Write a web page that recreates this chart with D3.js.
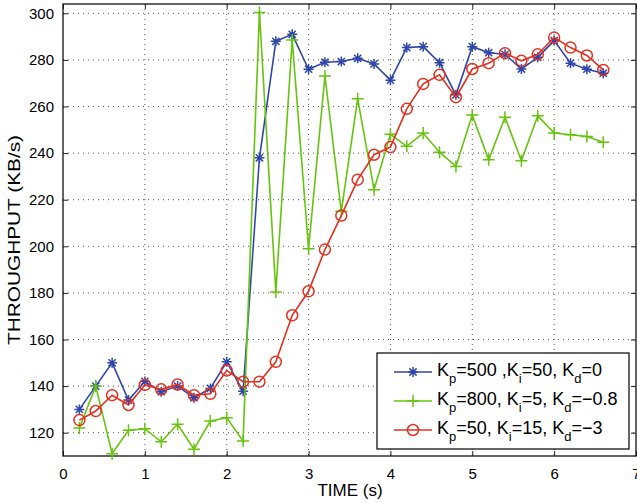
<!DOCTYPE html>
<html>
<head>
<meta charset="utf-8">
<script src="https://cdn.jsdelivr.net/npm/d3@7"></script>
<style>
  body { margin: 0; background: #fff; }
  text { font-family: "Liberation Sans", Arial, sans-serif; fill: #000; }
</style>
</head>
<body>
<div class="chart"></div>
<script>
var svgWidth = 637;
var svgHeight = 503;

var margin = { top: 4, right: 1, bottom: 47, left: 63 };
var width = svgWidth - margin.left - margin.right;
var height = svgHeight - margin.top - margin.bottom;

// time samples (s)
var timeVals = [0.2, 0.4, 0.6, 0.8, 1.0, 1.2, 1.4, 1.6, 1.8, 2.0, 2.2, 2.4, 2.6, 2.8, 3.0, 3.2,
  3.4, 3.6, 3.8, 4.0, 4.2, 4.4, 4.6, 4.8, 5.0, 5.2, 5.4, 5.6, 5.8, 6.0, 6.2, 6.4, 6.6];

// throughput (KB/s) per controller setting
var blueVals = [130, 140, 150, 134, 142, 137.6, 140, 135, 139, 150.4, 137.8, 238, 288, 291, 276, 279,
  279.3, 280.7, 278.3, 271.3, 285.3, 285.7, 278.8, 265, 285.7, 283.1, 282.4, 276.1, 281.1, 288.3, 278.6, 276, 274.3];
var greenVals = [122, 140, 111, 121, 121.7, 116.1, 123.6, 112.9, 125, 126.4, 116.4, 300.4, 180.4, 288.6, 199, 273.1,
  215, 263.3, 224.3, 248.1, 242.9, 248.6, 240.4, 234.3, 256.4, 237.1, 255.4, 236.7, 256, 248.6, 247.9, 247.1, 244.7];
var redVals = [125.4, 129.3, 136.1, 131.9, 140.5, 138.6, 140.7, 136.1, 136.7, 146.7, 141.9, 141.9, 150.4, 170.4, 180.7, 198.6,
  213.2, 228.6, 239.3, 242.6, 259, 269.7, 273.6, 264, 276.1, 278.6, 282.9, 279.6, 282.4, 289.6, 285.3, 281.9, 275.7];

var xTicks = [0, 1, 2, 3, 4, 5, 6, 7];
var yTicks = [120, 140, 160, 180, 200, 220, 240, 260, 280, 300];

var legendRows = [
  ["K", "p", "=500 ,", "K", "i", "=50, ", "K", "d", "=0"],
  ["K", "p", "=800, ", "K", "i", "=5, ", "K", "d", "=\u22120.8"],
  ["K", "p", "=50, ", "K", "i", "=15, ", "K", "d", "=\u22123"]
];

var series = [
  { values: blueVals, color: "#2f47aa", marker: "star" },
  { values: greenVals, color: "#66c40f", marker: "plus" },
  { values: redVals, color: "#e5301f", marker: "circle" }
];

var svg = d3.select(".chart")
  .append("svg")
  .attr("width", svgWidth)
  .attr("height", svgHeight);

var chartGroup = svg.append("g")
  .attr("transform", `translate(${margin.left}, ${margin.top})`);

var xScale = d3.scaleLinear().domain([0, 7]).range([0, width]);
var yScale = d3.scaleLinear().domain([110, 304]).range([height, 0]);

// dotted grid
chartGroup.append("g")
  .selectAll("line")
  .data(xTicks.slice(1, -1))
  .enter()
  .append("line")
  .attr("x1", d => xScale(d)).attr("x2", d => xScale(d))
  .attr("y1", 0).attr("y2", height)
  .attr("stroke", "#555").attr("stroke-dasharray", "1,4");

chartGroup.append("g")
  .selectAll("line")
  .data(yTicks)
  .enter()
  .append("line")
  .attr("x1", 0).attr("x2", width)
  .attr("y1", d => yScale(d)).attr("y2", d => yScale(d))
  .attr("stroke", "#555").attr("stroke-dasharray", "1,4");

// axes with inward ticks, mirrored on top/right
var bottomAxis = d3.axisBottom(xScale).tickValues(xTicks).tickFormat(d3.format("d"))
  .tickSizeInner(-5).tickSizeOuter(0).tickPadding(12);
var leftAxis = d3.axisLeft(yScale).tickValues(yTicks).tickFormat(d3.format("d"))
  .tickSizeInner(-5).tickSizeOuter(0).tickPadding(9);
var topAxis = d3.axisTop(xScale).tickValues(xTicks).tickSizeInner(-5).tickSizeOuter(0).tickFormat("");
var rightAxis = d3.axisRight(yScale).tickValues(yTicks).tickSizeInner(-5).tickSizeOuter(0).tickFormat("");

chartGroup.append("g")
  .attr("transform", `translate(0, ${height})`)
  .call(bottomAxis);
chartGroup.append("g").call(leftAxis);
chartGroup.append("g").call(topAxis);
chartGroup.append("g")
  .attr("transform", `translate(${width}, 0)`)
  .call(rightAxis);

chartGroup.selectAll(".domain").remove();
chartGroup.selectAll(".tick line").attr("stroke", "#222");
chartGroup.selectAll(".tick text")
  .style("font-size", "15px")
  .style("font-family", "'Liberation Sans', Arial, sans-serif");

chartGroup.append("rect")
  .attr("width", width).attr("height", height)
  .attr("fill", "none").attr("stroke", "#111").attr("stroke-width", 1.3);

// series lines and markers
var line = d3.line()
  .x((d, i) => xScale(timeVals[i]))
  .y(d => yScale(d));

function drawMarker(g, type, color) {
  if (type === "circle") {
    g.append("circle").attr("r", 5.5)
      .attr("fill", "none").attr("stroke", color).attr("stroke-width", 1.5);
  } else if (type === "plus") {
    g.append("path").attr("d", "M-6,0H6M0,-6V6")
      .attr("stroke", color).attr("stroke-width", 1.5);
  } else {
    g.append("path").attr("d", "M-5,0H5M0,-5V5M-3.6,-3.6L3.6,3.6M-3.6,3.6L3.6,-3.6")
      .attr("stroke", color).attr("stroke-width", 1.5);
  }
}

series.forEach(function (s) {
  chartGroup.append("path")
    .datum(s.values)
    .attr("d", line)
    .attr("fill", "none")
    .attr("stroke", s.color)
    .attr("stroke-width", 1.6);

  chartGroup.append("g")
    .selectAll("g")
    .data(s.values)
    .enter()
    .append("g")
    .attr("transform", (d, i) => `translate(${xScale(timeVals[i])}, ${yScale(d)})`)
    .each(function () { drawMarker(d3.select(this), s.marker, s.color); });
});

// legend
var legend = svg.append("g").attr("transform", "translate(377, 353)");
legend.append("rect")
  .attr("width", 252).attr("height", 96)
  .attr("fill", "#fff").attr("stroke", "#000").attr("stroke-width", 1.2);

legendRows.forEach(function (parts, r) {
  var baseY = 16.5 + r * 29;
  var s = series[r];
  legend.append("line")
    .attr("x1", 17).attr("x2", 55)
    .attr("y1", baseY + 2.5).attr("y2", baseY + 2.5)
    .attr("stroke", s.color).attr("stroke-width", 1.6);
  var mg = legend.append("g").attr("transform", `translate(36, ${baseY + 2.5})`);
  drawMarker(mg, s.marker, s.color);

  var t = legend.append("text")
    .attr("x", 60).attr("y", baseY + 6)
    .style("font-size", "18px");
  parts.forEach(function (p, k) {
    var isSub = (k % 3 === 1);
    var afterSub = (k % 3 === 2);
    t.append("tspan")
      .attr("dy", isSub ? 7 : (afterSub ? -7 : 0))
      .style("font-size", isSub ? "13px" : "18px")
      .text(p);
  });
});

// axis titles
svg.append("text")
  .attr("transform", "translate(20, 240) rotate(-90)")
  .attr("text-anchor", "middle")
  .attr("textLength", 210)
  .attr("lengthAdjust", "spacingAndGlyphs")
  .style("font-size", "16px")
  .text("THROUGHPUT (KB/s)");

svg.append("text")
  .attr("x", 350).attr("y", 496)
  .attr("text-anchor", "middle")
  .style("font-size", "17px")
  .text("TIME (s)");
</script>
</body>
</html>
